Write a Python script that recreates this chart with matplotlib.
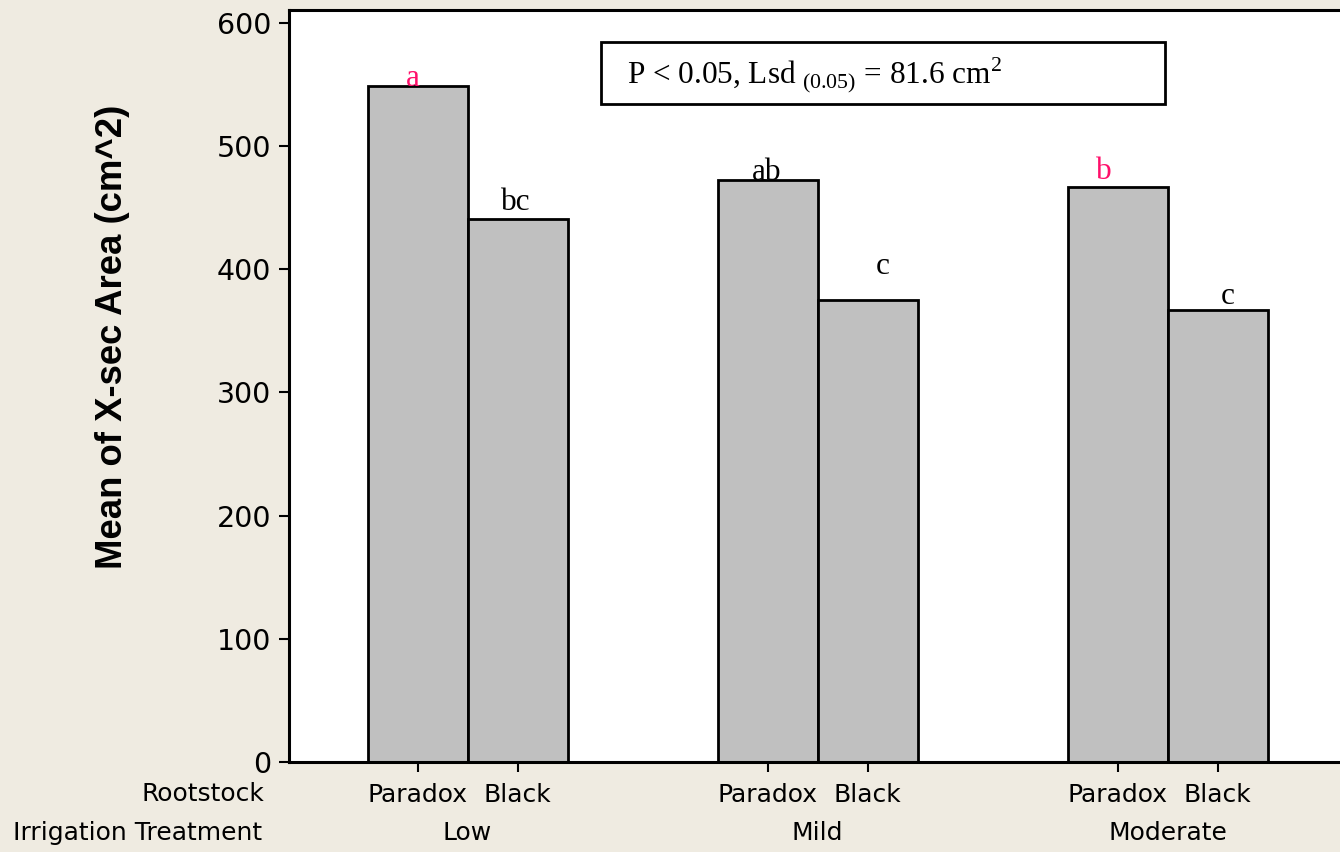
import matplotlib
matplotlib.use("Agg")
import matplotlib.pyplot as plt
from matplotlib.patches import Rectangle
from matplotlib.transforms import blended_transform_factory

# ---- data ----
treatments = ["Low", "Mild", "Moderate"]
rootstocks = ["Paradox", "Black"]
paradox_means = [549, 472, 467]
black_means = [441, 375, 367]
paradox_letters = ["a", "ab", "b"]
black_letters = ["bc", "c", "c"]
yticks = [0, 100, 200, 300, 400, 500, 600]

# ---- style / layout ----
BG = "#EFEBE1"
BAR = "#C0C0C0"
PINK = "#FF0F6A"
paradox_letter_colors = [PINK, "black", PINK]
black_letter_colors = ["black", "black", "black"]
# letter offsets (dx in bar widths, dy in data units)
paradox_letter_off = [(-0.05, 0), (-0.01, 0.5), (-0.14, 6)]
black_letter_off = [(-0.02, 7), (0.15, 21), (0.10, 5)]

group_gap = 3.5
fig = plt.figure(figsize=(13.4, 8.52), dpi=100, facecolor=BG)
ax = fig.add_axes([289 / 1340, 90 / 852, 1056 / 1340, 752 / 852])
ax.set_facecolor("white")

centers = [i * group_gap for i in range(len(treatments))]
xp = [c - 0.5 for c in centers]
xb = [c + 0.5 for c in centers]

ax.bar(xp, paradox_means, width=1.0, color=BAR, edgecolor="black", linewidth=2.0, zorder=2)
ax.bar(xb, black_means, width=1.0, color=BAR, edgecolor="black", linewidth=2.0, zorder=2)

serif = "Liberation Serif"
for x, v, l, c, (dx, dy) in zip(xp, paradox_means, paradox_letters, paradox_letter_colors, paradox_letter_off):
    ax.text(x + dx, v + dy, l, color=c, ha="center", va="baseline", fontsize=22.5, family=serif, zorder=3)
for x, v, l, c, (dx, dy) in zip(xb, black_means, black_letters, black_letter_colors, black_letter_off):
    ax.text(x + dx, v + dy, l, color=c, ha="center", va="baseline", fontsize=22.5, family=serif, zorder=3)

ax.set_xlim(-1.785, 8.775)
ax.set_ylim(0, 610.3)
ax.set_yticks(yticks)
ax.set_yticklabels([str(t) for t in yticks], fontsize=20.5, family="DejaVu Sans")
xt = []
xl = []
for a, b in zip(xp, xb):
    xt += [a, b]
    xl += rootstocks
ax.set_xticks(xt)
ax.set_xticklabels(xl, fontsize=18, family="DejaVu Sans")

for s in ["left", "bottom", "top"]:
    ax.spines[s].set_linewidth(2.2)
ax.spines["right"].set_visible(False)
ax.tick_params(axis="both", direction="out", length=7, width=1.5, colors="black")
ax.tick_params(axis="y", pad=6)
ax.tick_params(axis="x", pad=8)

fig.text(112 / 1340, (852 - 337) / 852, "Mean of X-sec Area (cm^2)", rotation=90,
         ha="center", va="center", fontsize=26.3, fontweight="bold",
         family="Liberation Sans")

trans = blended_transform_factory(ax.transData, fig.transFigure)
for c, t in zip(centers, treatments):
    ax.text(c, (852 - 833) / 852, t, transform=trans, ha="center", va="center",
            fontsize=18, family="DejaVu Sans", clip_on=False)

fig.text(264 / 1340, (852 - 794) / 852, "Rootstock", ha="right", va="center",
         fontsize=18, family="DejaVu Sans")
fig.text(262 / 1340, (852 - 833) / 852, "Irrigation Treatment", ha="right", va="center",
         fontsize=18, family="DejaVu Sans")

# annotation box
plt.rcParams["mathtext.fontset"] = "custom"
plt.rcParams["mathtext.rm"] = serif
fig.patches.append(Rectangle((601 / 1340, (852 - 104) / 852), 564 / 1340, 62 / 852,
                             transform=fig.transFigure, facecolor="white",
                             edgecolor="black", linewidth=2.0, zorder=5))
fig.text(627 / 1340, (852 - 75) / 852,
         r"P < 0.05, Lsd$_{\mathrm{\ (0.05)}}$ = 81.6 cm$^{\mathrm{2}}$",
         ha="left", va="center", fontsize=22.5, family=serif, zorder=6)

fig.savefig("out.png", dpi=100, facecolor=BG)
